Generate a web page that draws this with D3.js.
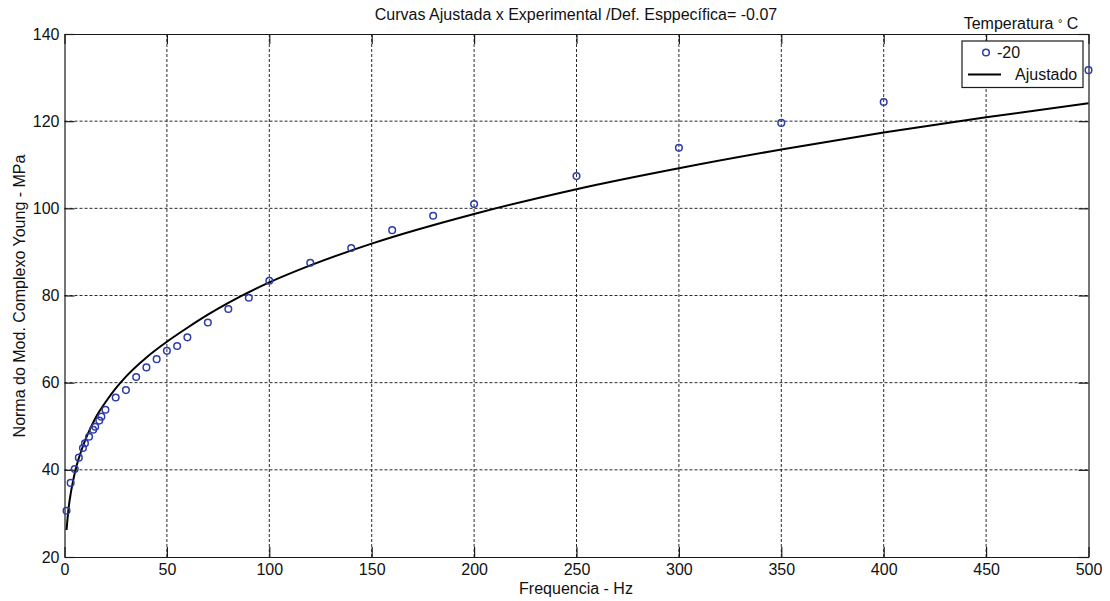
<!DOCTYPE html>
<html>
<head>
<meta charset="utf-8">
<script src="https://cdn.jsdelivr.net/npm/d3@7"></script>
<style>
  html, body { margin: 0; padding: 0; background: #fff; }
  svg { display: block; font-family: "Liberation Sans", Arial, sans-serif; }
</style>
</head>
<body>
<svg id="chart" width="1110" height="601"></svg>
<script>
// Measured points: frequency (Hz) and modulus norm (MPa) at -20 °C
const freqHz = [1, 3, 5, 7, 9, 10, 12, 14, 15, 17, 18, 20, 25, 30, 35, 40, 45, 50, 55, 60,
                70, 80, 90, 100, 120, 140, 160, 180, 200, 250, 300, 350, 400, 500];
const modulusMPa = [30.6, 37.0, 40.2, 42.8, 45.0, 46.1, 47.6, 49.2, 49.9, 51.3, 52.2, 53.8,
                    56.6, 58.3, 61.3, 63.5, 65.4, 67.3, 68.4, 70.4, 73.8, 76.9, 79.5, 83.4,
                    87.5, 90.9, 95.0, 98.3, 101.0, 107.4, 113.9, 119.6, 124.4, 131.7];

// Fitted curve, sampled along the frequency range
const fitHz = [1, 2, 3, 4, 5, 6, 8, 10, 12, 15, 20, 25, 30, 40, 50, 60, 70, 80, 100, 120,
               150, 200, 250, 300, 350, 400, 450, 500];
const fitMPa = [26.2, 31.2, 34.5, 37.0, 39.2, 41.1, 44.1, 46.7, 48.9, 51.8, 55.5, 58.7,
                61.4, 65.8, 69.4, 72.6, 75.6, 78.3, 83.0, 86.9, 91.9, 98.7, 104.4, 109.2,
                113.5, 117.4, 120.9, 124.1];

const xTicks = [0, 50, 100, 150, 200, 250, 300, 350, 400, 450, 500];
const yTicks = [20, 40, 60, 80, 100, 120, 140];

const titleText = "Curvas Ajustada x Experimental /Def. Esppecífica= -0.07";
const xLabel = "Frequencia - Hz";
const yLabel = "Norma do Mod. Complexo Young  - MPa";
const legendTitle = "Temperatura";
const seriesNames = ["-20", "Ajustado"];

const svg = d3.select("#chart");
const plotLeft = 64.5, plotRight = 1088.5, plotTop = 34, plotBottom = 557;

const x = d3.scaleLinear().domain([0, 500]).range([plotLeft, plotRight]);
const y = d3.scaleLinear().domain([20, 140]).range([plotBottom, plotTop]);

const axisColor = "#1a1a1a";
const gridColor = "#2a2a2a";
const markerColor = "#2e3ca6";
const fontSize = 16;

// Dotted grid
const grid = svg.append("g");
grid.selectAll("line.vx").data(xTicks.slice(1, -1)).join("line")
  .attr("x1", d => x(d)).attr("x2", d => x(d))
  .attr("y1", plotTop).attr("y2", plotBottom)
  .attr("stroke", gridColor).attr("stroke-width", 1).attr("stroke-dasharray", "3,2");
grid.selectAll("line.hy").data(yTicks.slice(1, -1)).join("line")
  .attr("x1", plotLeft).attr("x2", plotRight)
  .attr("y1", d => y(d)).attr("y2", d => y(d))
  .attr("stroke", gridColor).attr("stroke-width", 1).attr("stroke-dasharray", "3,2");

// Axes with inward ticks on all four sides
const tickLen = 10;
const styleAxis = g => {
  g.select(".domain").attr("stroke", axisColor).attr("stroke-width", 1.2);
  g.selectAll(".tick line").attr("stroke", axisColor).attr("stroke-width", 1.2);
  g.selectAll(".tick text").attr("fill", "#111").style("font-size", fontSize + "px")
    .style("font-family", "'Liberation Sans', Arial, sans-serif");
};

svg.append("g").attr("transform", `translate(0,${plotBottom})`)
  .call(d3.axisBottom(x).tickValues(xTicks).tickSizeInner(-tickLen).tickSizeOuter(0).tickPadding(7))
  .call(styleAxis);
svg.append("g").attr("transform", `translate(0,${plotTop})`)
  .call(d3.axisTop(x).tickValues(xTicks).tickSizeInner(-tickLen).tickSizeOuter(0).tickFormat(""))
  .call(styleAxis);
svg.append("g").attr("transform", `translate(${plotLeft},0)`)
  .call(d3.axisLeft(y).tickValues(yTicks).tickSizeInner(-tickLen).tickSizeOuter(0).tickPadding(5))
  .call(styleAxis);
svg.append("g").attr("transform", `translate(${plotRight},0)`)
  .call(d3.axisRight(y).tickValues(yTicks).tickSizeInner(-tickLen).tickSizeOuter(0).tickFormat(""))
  .call(styleAxis);

// Fitted curve
const line = d3.line().x(d => x(d[0])).y(d => y(d[1])).curve(d3.curveMonotoneX);
svg.append("path")
  .datum(fitHz.map((f, i) => [f, fitMPa[i]]))
  .attr("d", line)
  .attr("fill", "none").attr("stroke", "#000").attr("stroke-width", 2);

// Experimental points
svg.append("g").selectAll("circle")
  .data(freqHz.map((f, i) => [f, modulusMPa[i]]))
  .join("circle")
  .attr("cx", d => x(d[0])).attr("cy", d => y(d[1])).attr("r", 3.3)
  .attr("fill", "none").attr("stroke", markerColor).attr("stroke-width", 1.5);

// Title and axis labels
svg.append("text").attr("x", 576).attr("y", 20).attr("text-anchor", "middle")
  .style("font-size", fontSize + "px").attr("fill", "#111").text(titleText);
svg.append("text").attr("x", 576).attr("y", 594).attr("text-anchor", "middle")
  .style("font-size", fontSize + "px").attr("fill", "#111").text(xLabel);
svg.append("text").attr("transform", `translate(25,296) rotate(-90)`).attr("text-anchor", "middle")
  .style("font-size", fontSize + "px").attr("fill", "#111").text(yLabel);

// Legend
const lg = svg.append("g");
const lt = lg.append("text").attr("x", 1021).attr("y", 29).attr("text-anchor", "middle")
  .style("font-size", fontSize + "px").attr("fill", "#111");
lt.append("tspan").text(legendTitle + "  ");
lt.append("tspan").style("font-size", "11px").attr("dy", -2).text("°");
lt.append("tspan").attr("dy", 2).text(" C");

lg.append("rect").attr("x", 962).attr("y", 41).attr("width", 121).attr("height", 46.5)
  .attr("fill", "#fff").attr("stroke", axisColor).attr("stroke-width", 1.2);
lg.append("circle").attr("cx", 986).attr("cy", 52.5).attr("r", 3.3)
  .attr("fill", "none").attr("stroke", markerColor).attr("stroke-width", 1.5);
lg.append("text").attr("x", 997).attr("y", 58).style("font-size", fontSize + "px")
  .attr("fill", "#111").text(seriesNames[0]);
lg.append("line").attr("x1", 968).attr("x2", 1001).attr("y1", 74.5).attr("y2", 74.5)
  .attr("stroke", "#000").attr("stroke-width", 2);
lg.append("text").attr("x", 1015).attr("y", 80).style("font-size", fontSize + "px")
  .attr("fill", "#111").text(seriesNames[1]);
</script>
</body>
</html>
